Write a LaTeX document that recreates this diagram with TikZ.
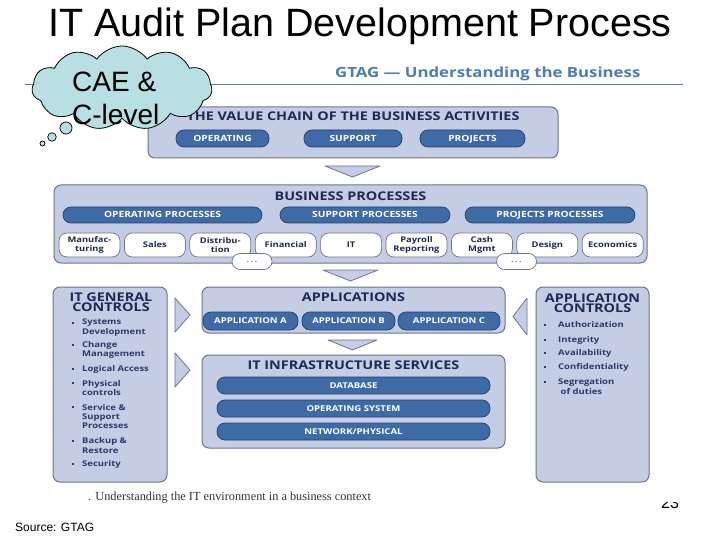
\documentclass[tikz,border=0pt]{standalone}
\usepackage{fontspec}
\setmainfont{Liberation Sans}
\newfontfamily\figfont[FakeStretch=1.2]{Open Sans}
\newfontfamily\capfont{Liberation Serif}
\usetikzlibrary{shapes.symbols}
\definecolor{boxfill}{HTML}{C5CDE5}
\definecolor{boxline}{HTML}{6E7388}
\definecolor{pillfill}{HTML}{3E6AA6}
\definecolor{pillline}{HTML}{22406E}
\definecolor{navy}{HTML}{1D2B52}
\definecolor{bullettext}{HTML}{2B3A67}
\definecolor{gtag}{HTML}{4A7CB6}
\definecolor{cloudfill}{HTML}{B8DFE1}
\tikzset{
  panel/.style={draw=boxline, fill=boxfill, rounded corners=7pt, line width=1pt, inner sep=0pt},
  pillbox/.style={draw=pillline, fill=pillfill, rounded corners=8pt, line width=0.7pt, inner sep=0pt,
    text=white, text height=5.2pt, text depth=0pt, font=\figfont\bfseries\fontsize{8.5}{9}\selectfont},
  wbox/.style={draw=boxline, fill=white, rounded corners=8pt, line width=0.7pt, inner sep=0pt,
    minimum width=61pt, minimum height=24pt, align=center, text=navy,
    font=\figfont\bfseries\fontsize{7.8}{8.8}\selectfont},
  hdr/.style={text=navy, inner sep=0pt, font=\figfont\bfseries\fontsize{12}{13}\selectfont},
  bigh/.style={text=navy, inner sep=0pt, align=center, font=\figfont\bfseries\fontsize{12}{10.5}\selectfont},
  item/.style={text=bullettext, inner sep=0pt, anchor=west, align=left,
    font=\figfont\bfseries\fontsize{7.9}{9.4}\selectfont},
  bul/.style={fill=bullettext, inner sep=0pt, minimum size=2pt},
  tri/.style={draw=boxline, fill=boxfill, line width=0.8pt, line join=round},
}
\begin{document}
\begin{tikzpicture}[x=1pt, y=-1pt]
\useasboundingbox[fill=white] (0,0) rectangle (720,540);

% title
\node[anchor=base, inner sep=0pt, font=\fontsize{39.5}{40}\selectfont] (title) at (360,37) {IT Audit Plan Development Process};

% GTAG header and rule
\node[anchor=base west, inner sep=0pt, text=gtag, font=\figfont\bfseries\fontsize{14}{15}\selectfont] (gtag) at (335,78) {GTAG — Understanding the Business};
\coordinate (ruleL) at (25,85);
\coordinate (ruleR) at (683,85);
\draw[color=gtag!70!gray, line width=1pt] (ruleL) -- (ruleR);

% value chain
\node[panel, minimum width=410pt, minimum height=51pt] (vc) at (353,132.5) {};
\node[hdr] (vct) at (353,116) {THE VALUE CHAIN OF THE BUSINESS ACTIVITIES};
\node[pillbox, minimum width=93pt, minimum height=17pt] (vc1) at (222.5,138.5) {OPERATING};
\node[pillbox, minimum width=98pt, minimum height=17pt] (vc2) at (353,138.5) {SUPPORT};
\node[pillbox, minimum width=105pt, minimum height=17pt] (vc3) at (472.5,138.5) {PROJECTS};

\draw[tri] (325,166) -- (380,166) -- (352.5,177) -- cycle;

% business processes
\node[panel, minimum width=593pt, minimum height=78pt] (bp) at (350.5,224) {};
\node[hdr] (bpt) at (350.5,196) {BUSINESS PROCESSES};
\node[pillbox, minimum width=199pt, minimum height=16pt] (bp1) at (162.5,215) {OPERATING PROCESSES};
\node[pillbox, minimum width=170pt, minimum height=16pt] (bp2) at (365,215) {SUPPORT PROCESSES};
\node[pillbox, minimum width=170pt, minimum height=16pt] (bp3) at (550,215) {PROJECTS PROCESSES};
\node[wbox] (w1) at (89.5,245) {Manufac-\\turing};
\node[wbox] (w2) at (154.9,245) {Sales};
\node[wbox] (w3) at (220.3,245) {Distribu-\\tion};
\node[wbox] (w4) at (285.7,245) {Financial};
\node[wbox] (w5) at (351.1,245) {IT};
\node[wbox] (w6) at (416.5,245) {Payroll\\Reporting};
\node[wbox] (w7) at (481.9,245) {Cash\\Mgmt};
\node[wbox] (w8) at (547.3,245) {Design};
\node[wbox] (w9) at (612.7,245) {Economics};
\node[wbox, minimum width=40pt, minimum height=16pt, text=gray] (d1) at (252,261.5) {.\,.\,.};
\node[wbox, minimum width=40pt, minimum height=16pt, text=gray] (d2) at (516.5,261.5) {.\,.\,.};

\draw[tri] (323,270) -- (378,270) -- (350.5,281) -- cycle;

% applications
\node[panel, minimum width=303pt, minimum height=46pt] (app) at (353.5,310) {};
\node[hdr] (appt) at (353.5,297) {APPLICATIONS};
\node[pillbox, minimum width=95pt, minimum height=18pt, font=\figfont\bfseries\fontsize{8}{9}\selectfont] (a1) at (250.5,321) {APPLICATION A};
\node[pillbox, minimum width=93pt, minimum height=18pt, font=\figfont\bfseries\fontsize{8}{9}\selectfont] (a2) at (348.5,321) {APPLICATION B};
\node[pillbox, minimum width=102pt, minimum height=18pt, font=\figfont\bfseries\fontsize{8}{9}\selectfont] (a3) at (449,321) {APPLICATION C};

\draw[tri] (328,340) -- (377,340) -- (352.5,350) -- cycle;

% infrastructure
\node[panel, minimum width=303pt, minimum height=93pt] (inf) at (353.5,401.5) {};
\node[hdr] (inft) at (353.5,365) {IT INFRASTRUCTURE SERVICES};
\node[pillbox, minimum width=273pt, minimum height=17pt, font=\figfont\bfseries\fontsize{8}{9}\selectfont] (i1) at (353.5,385.5) {DATABASE};
\node[pillbox, minimum width=273pt, minimum height=17pt, font=\figfont\bfseries\fontsize{8}{9}\selectfont] (i2) at (353.5,408.5) {OPERATING SYSTEM};
\node[pillbox, minimum width=273pt, minimum height=17pt, font=\figfont\bfseries\fontsize{8}{9}\selectfont] (i3) at (353.5,431.5) {NETWORK/PHYSICAL};

% side arrows
\draw[tri] (175,298) -- (175,332) -- (190,315) -- cycle;
\draw[tri] (175,353) -- (175,387) -- (190,370) -- cycle;
\draw[tri] (527,298) -- (527,335) -- (513,316.5) -- cycle;

% IT general controls
\node[panel, minimum width=114pt, minimum height=195pt] (gc) at (110,384.5) {};
\node[bigh] (gct) at (111,302) {IT GENERAL\\CONTROLS};
\foreach \y/\t in {327.5/{Systems\\Development}, 350/{Change\\Management}, 369/{Logical Access},
  388/{Physical\\controls}, 416.5/{Service \&\\Support\\Processes}, 445.5/{Backup \&\\Restore}, 464/{Security}} {
  \node[item] at (82,\y) {\t};
}
\foreach \y in {323,345,369,383,407,441,464} { \node[bul] at (73,\y) {}; }

% application controls
\node[panel, minimum width=113pt, minimum height=195pt] (ac) at (592.5,384.5) {};
\node[bigh] (act) at (592.5,303) {APPLICATION\\CONTROLS};
\foreach \y/\t in {325/{Authorization}, 340/{Integrity}, 353/{Availability}, 367/{Confidentiality}, 386.5/{Segregation\\\ of duties}} {
  \node[item] at (558,\y) {\t};
}
\foreach \y in {325,340,353,367,382} { \node[bul] at (545,\y) {}; }

% caption, source, page number
\node[anchor=base west, inner sep=0pt, text=black!80, font=\capfont\fontsize{12.3}{13}\selectfont] (cap) at (88,500) {. Understanding the IT environment in a business context};
\node[anchor=base west, inner sep=0pt, font=\fontsize{12}{13}\selectfont] (src) at (15,531) {Source: GTAG};
\begin{scope}
\clip (650,502.5) rectangle (690,515);
\node[anchor=base, inner sep=0pt, font=\fontsize{16}{17}\selectfont] (pg) at (670,508.5) {23};
\end{scope}

% cloud
\node[cloud, cloud puffs=11, cloud puff arc=110, aspect=2.4, draw=black, fill=cloudfill, line width=0.8pt,
  minimum width=180pt, minimum height=84pt, inner sep=0pt] (cloud) at (122,88) {};
\node[anchor=base west, inner sep=0pt, font=\fontsize{28}{33}\selectfont] (cloudt1) at (72,92) {CAE \&};
\node[anchor=base west, inner sep=0pt, font=\fontsize{28}{33}\selectfont] (cloudt2) at (72,125) {C-level};
\node[circle, draw=black, fill=cloudfill, line width=0.7pt, minimum size=12pt, inner sep=0pt] (b1) at (66,128) {};
\node[circle, draw=black, fill=cloudfill, line width=0.7pt, minimum size=8.5pt, inner sep=0pt] (b2) at (52,137) {};
\node[circle, draw=black, fill=cloudfill, line width=0.7pt, minimum size=5pt, inner sep=0pt] (b3) at (42.5,143.5) {};
\end{tikzpicture}
\end{document}
